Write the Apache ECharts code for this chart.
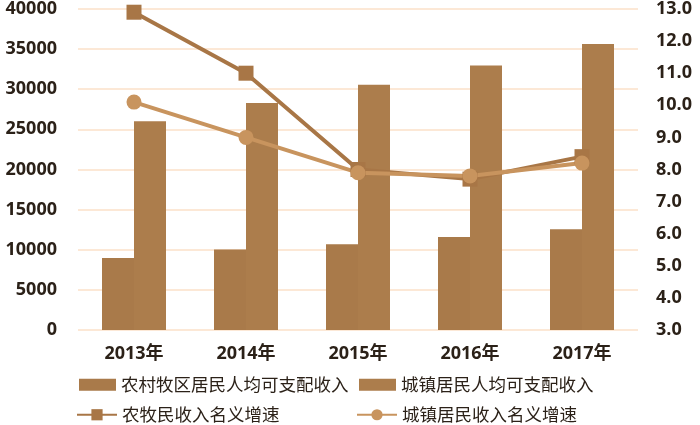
<!DOCTYPE html>
<html><head><meta charset="utf-8">
<script src="https://cdn.jsdelivr.net/npm/echarts@6/dist/echarts.min.js"></script>
<style>html,body{margin:0;padding:0;background:#fff}#c{width:700px;height:425px}</style>
</head><body><div id="c"></div>
<script>
const years = ['2013年','2014年','2015年','2016年','2017年'];
const ruralIncome = [8980, 10020, 10700, 11600, 12550];
const urbanIncome = [26000, 28300, 30550, 32950, 35650];
const ruralGrowth = [12.9, 11.0, 8.0, 7.7, 8.4];
const urbanGrowth = [10.1, 9.0, 7.9, 7.8, 8.2];
const names = ['农村牧区居民人均可支配收入','城镇居民人均可支配收入','农牧民收入名义增速','城镇居民收入名义增速'];

const barColor1 = '#A97A4A', barColor2 = '#AC7D4C';
const lineColor1 = '#A87646', lineColor2 = '#C8945E';
const font = '"Open Sans","Noto Sans CJK SC",sans-serif';
const legendText = {fontSize: 17.5, color: '#2b2118', fontFamily: '"Noto Sans CJK SC",sans-serif'};

function lg(name, left, top, w, h, icon){
  const o = {data:[name], left:left, top:top, itemWidth:w, itemHeight:h, itemGap:4, textStyle:legendText, selectedMode:false};
  if (icon) o.icon = icon;
  return o;
}
const chart = echarts.init(document.getElementById('c'));
chart.setOption({
  animation:false,
  grid:{left:78, right:62, top:8, bottom:95},
  legend:[
    lg(names[0], 74, 371, 37, 12, 'rect'),
    lg(names[1], 354, 371, 37, 12, 'rect'),
    lg(names[2], 71, 401, 40, 14),
    lg(names[3], 351, 401, 40, 14)
  ],
  xAxis:{type:'category', data:years,
    axisLine:{show:false}, axisTick:{show:false},
    axisLabel:{fontSize:18, fontWeight:'bold', color:'#2b2118', fontFamily:font, margin:15}},
  yAxis:[
    {type:'value', min:0, max:40000, interval:5000,
      axisLabel:{fontSize:18, fontWeight:'bold', color:'#2b2118', fontFamily:font, margin:21,
        formatter:v=>String(v)},
      splitLine:{lineStyle:{color:'#FBE1C9', width:1.5}}},
    {type:'value', min:3, max:13, interval:1,
      axisLabel:{fontSize:18, fontWeight:'bold', color:'#2b2118', fontFamily:font, margin:18,
        formatter:v=>v.toFixed(1)},
      splitLine:{show:false}}
  ],
  series:[
    {name:names[0], type:'bar', data:ruralIncome, barWidth:32, barGap:'0%', itemStyle:{color:barColor1}},
    {name:names[1], type:'bar', data:urbanIncome, barWidth:32, barGap:'0%', itemStyle:{color:barColor2}},
    {name:names[2], type:'line', yAxisIndex:1, data:ruralGrowth, symbol:'rect', symbolSize:15,
      lineStyle:{color:lineColor1, width:4}, itemStyle:{color:lineColor1}},
    {name:names[3], type:'line', yAxisIndex:1, data:urbanGrowth, symbol:'circle', symbolSize:15,
      lineStyle:{color:lineColor2, width:4}, itemStyle:{color:lineColor2}}
  ]
});
</script></body></html>
